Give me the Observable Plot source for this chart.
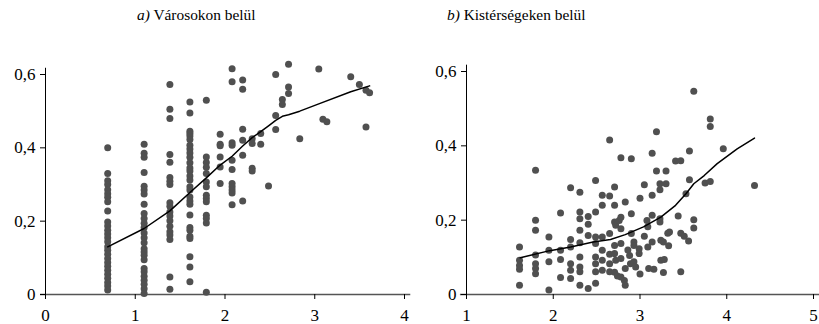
<!DOCTYPE html>
<html><head><meta charset="utf-8">
<script src="https://cdn.jsdelivr.net/npm/d3@7"></script>
<script src="https://cdn.jsdelivr.net/npm/@observablehq/plot@0.6"></script>
<style>
body{margin:0;background:#fff;}
#wrap{position:relative;width:819px;height:324px;font-family:"Liberation Serif","Times New Roman",serif;color:#000;}
.title{position:absolute;top:7px;font-size:15.4px;line-height:15px;white-space:nowrap;}
.panel{position:absolute;top:40px;}
</style></head><body>
<div id="wrap">
<div class="title" style="left:137px"><i>a)</i> Városokon belül</div>
<div class="title" style="left:447px"><i>b)</i> Kistérségeken belül</div>
<div class="panel" id="p1" style="left:0"></div>
<div class="panel" id="p2" style="left:410px"></div>
</div>
<script>
// Panel a) columns of x (log city size) and y values
const cityX = [0.693, 1.099, 1.386, 1.609, 1.792, 1.946, 2.079, 2.197, 2.303, 2.398, 2.485, 2.565, 2.639, 2.708, 2.833, 3.045, 3.091, 3.135, 3.401, 3.497, 3.571, 3.611];
const cityY = [
  [0.40,0.33,0.31,0.30,0.286,0.275,0.265,0.253,0.228,0.198,0.187,0.175,0.165,0.155,0.144,0.13,0.121,0.11,0.098,0.087,0.077,0.066,0.055,0.044,0.033,0.023,0.012],
  [0.41,0.385,0.374,0.333,0.295,0.285,0.274,0.246,0.221,0.207,0.194,0.183,0.168,0.155,0.141,0.125,0.116,0.107,0.095,0.071,0.062,0.05,0.039,0.028,0.016,0.003],
  [0.573,0.505,0.48,0.382,0.361,0.319,0.309,0.30,0.25,0.241,0.225,0.214,0.201,0.186,0.171,0.162,0.15,0.048,0.014],
  [0.525,0.495,0.445,0.439,0.432,0.423,0.407,0.397,0.386,0.374,0.359,0.345,0.337,0.323,0.312,0.294,0.285,0.266,0.255,0.246,0.217,0.183,0.175,0.159,0.153,0.103,0.075,0.035],
  [0.53,0.375,0.36,0.347,0.33,0.307,0.294,0.271,0.262,0.253,0.216,0.207,0.195,0.006],
  [0.437,0.41,0.406,0.375,0.348,0.303],
  [0.616,0.58,0.414,0.407,0.366,0.341,0.303,0.294,0.285,0.277,0.245],
  [0.585,0.56,0.451,0.421,0.38,0.255],
  [0.425,0.412,0.344,0.337],
  [0.439,0.41],
  [0.296],
  [0.60,0.488,0.45],
  [0.532,0.518],
  [0.628,0.566,0.548],
  [0.425],
  [0.615],
  [0.478],
  [0.471],
  [0.594],
  [0.573],
  [0.557,0.457],
  [0.55]
];
const cityLineX = [0.693,1.099,1.386,1.609,1.792,1.946,2.079,2.197,2.303,2.398,2.485,2.565,2.639,2.708,2.833,3.045,3.401,3.611];
const cityLineY = [0.13,0.18,0.228,0.278,0.318,0.353,0.377,0.405,0.428,0.444,0.46,0.475,0.486,0.49,0.5,0.52,0.553,0.569];

// Panel b) points [x, y]
const regionPoints = [
[1.611,0.128],[1.611,0.092],[1.611,0.078],[1.611,0.068],[1.611,0.025],
[1.796,0.334],[1.796,0.200],[1.796,0.173],[1.796,0.106],[1.796,0.083],[1.796,0.070],[1.796,0.056],
[1.950,0.155],[1.950,0.119],[1.950,0.088],[1.950,0.012],
[2.084,0.219],[2.084,0.119],[2.084,0.094],[2.084,0.046],
[2.200,0.287],[2.200,0.148],[2.200,0.128],[2.200,0.083],[2.200,0.065],[2.200,0.043],
[2.307,0.275],[2.307,0.222],[2.307,0.204],[2.307,0.173],[2.307,0.139],[2.307,0.101],[2.307,0.074],[2.307,0.061],[2.307,0.025],
[2.403,0.210],[2.403,0.189],[2.403,0.159],[2.403,0.016],
[2.488,0.307],[2.488,0.222],[2.488,0.155],[2.488,0.137],[2.488,0.101],[2.488,0.083],[2.488,0.061],[2.488,0.030],
[2.565,0.267],[2.565,0.240],[2.565,0.155],[2.565,0.119],[2.565,0.092],[2.565,0.065],
[2.650,0.416],[2.650,0.265],[2.650,0.164],[2.650,0.108],[2.650,0.083],[2.650,0.061],
[2.707,0.289],[2.707,0.240],[2.707,0.195],[2.707,0.132],[2.707,0.110],[2.707,0.060],
[2.72,0.186],[2.72,0.092],[2.76,0.199],[2.74,0.050],
[2.78,0.368],[2.78,0.208],[2.78,0.177],[2.78,0.137],[2.78,0.097],[2.78,0.047],
[2.82,0.038],[2.83,0.249],[2.83,0.070],[2.83,0.025],
[2.86,0.120],[2.88,0.105],[2.89,0.083],
[2.90,0.365],[2.90,0.217],[2.90,0.164],
[2.93,0.141],[2.93,0.132],[2.93,0.088],[2.95,0.074],
[2.99,0.123],[2.99,0.110],[3.00,0.259],[3.00,0.055],
[3.05,0.295],[3.05,0.157],
[3.08,0.199],[3.09,0.182],[3.09,0.128],[3.10,0.070],
[3.14,0.380],[3.14,0.267],[3.14,0.213],[3.14,0.141],[3.16,0.068],
[3.19,0.438],[3.19,0.332],
[3.23,0.298],[3.23,0.282],[3.23,0.204],[3.23,0.195],[3.24,0.146],[3.24,0.092],
[3.27,0.141],[3.27,0.059],[3.28,0.094],
[3.30,0.332],[3.30,0.298],
[3.32,0.165],[3.33,0.131],[3.34,0.168],
[3.41,0.359],[3.44,0.211],
[3.47,0.360],[3.47,0.165],[3.47,0.061],
[3.51,0.157],[3.53,0.271],[3.56,0.144],
[3.57,0.386],[3.57,0.309],
[3.62,0.547],[3.62,0.201],[3.62,0.179],
[3.75,0.300],[3.81,0.304],[3.81,0.472],[3.81,0.452],
[3.96,0.392],[4.32,0.293]
];
const regionLineX = [1.62,1.96,2.2,2.46,2.66,2.83,3.04,3.24,3.41,3.53,3.62,3.74,3.89,4.12,4.32];
const regionLineY = [0.099,0.118,0.128,0.141,0.148,0.161,0.182,0.208,0.24,0.271,0.298,0.32,0.352,0.392,0.421];

const yTicks = [0, 0.2, 0.4, 0.6];
const leftXTicks = [0, 1, 2, 3, 4];
const rightXTicks = [1, 2, 3, 4, 5];

const fmt = d => d === 0 ? "0" : d.toFixed(1).replace(".", ",");
const SERIF = "'Liberation Serif', 'Times New Roman', serif";

function panel({points, line, xDomain, xTicks, width, marginLeft, marginTop, axisTop, xExt}) {
  const svg = Plot.plot({
    width, height: 284, marginLeft, marginRight: 6, marginTop, marginBottom: 30,
    style: `font-family: ${SERIF}; font-size: 17px; color: #000; background: transparent; overflow: visible;`,
    x: {domain: xDomain},
    y: {domain: [0, 0.6]},
    marks: [
      Plot.ruleY([0], {x1: xExt[0], x2: xExt[1], stroke: "#555", strokeWidth: 1.6}),
      Plot.ruleX([xDomain[0]], {y1: 0, y2: axisTop, stroke: "#000", strokeWidth: 1}),
      Plot.axisX({ticks: xTicks, tickSize: 5, tickPadding: 9, tickFormat: d => String(d), stroke: "#000", fontSize: 17}),
      Plot.axisY({ticks: yTicks, tickSize: 5, tickPadding: 5, tickFormat: fmt, stroke: "#000", fontSize: 17}),
      Plot.dot(points, {x: d => d[0], y: d => d[1], r: 3.5, fill: "#505050", stroke: "none"}),
      Plot.line(line, {x: d => d[0], y: d => d[1], stroke: "#000", strokeWidth: 1.5})
    ]
  });
  d3.select(svg).selectAll("g, text")
    .style("font-family", SERIF);
  return svg;
}

const cityPoints = cityX.flatMap((x, i) => cityY[i].map(y => [x, y]));
const cityLine = cityLineX.map((x, i) => [x, cityLineY[i]]);
const regionLine = regionLineX.map((x, i) => [x, regionLineY[i]]);

document.getElementById("p1").append(panel({
  points: cityPoints, line: cityLine, xDomain: [0, 4], xTicks: leftXTicks,
  width: 410, marginLeft: 45, marginTop: 34, axisTop: 0.617, xExt: [-0.055, 4.07]
}));
document.getElementById("p2").append(panel({
  points: regionPoints, line: regionLine, xDomain: [1, 5], xTicks: rightXTicks,
  width: 409, marginLeft: 56, marginTop: 31, axisTop: 0.617, xExt: [0.93, 5.07]
}));
</script>
</body></html>
